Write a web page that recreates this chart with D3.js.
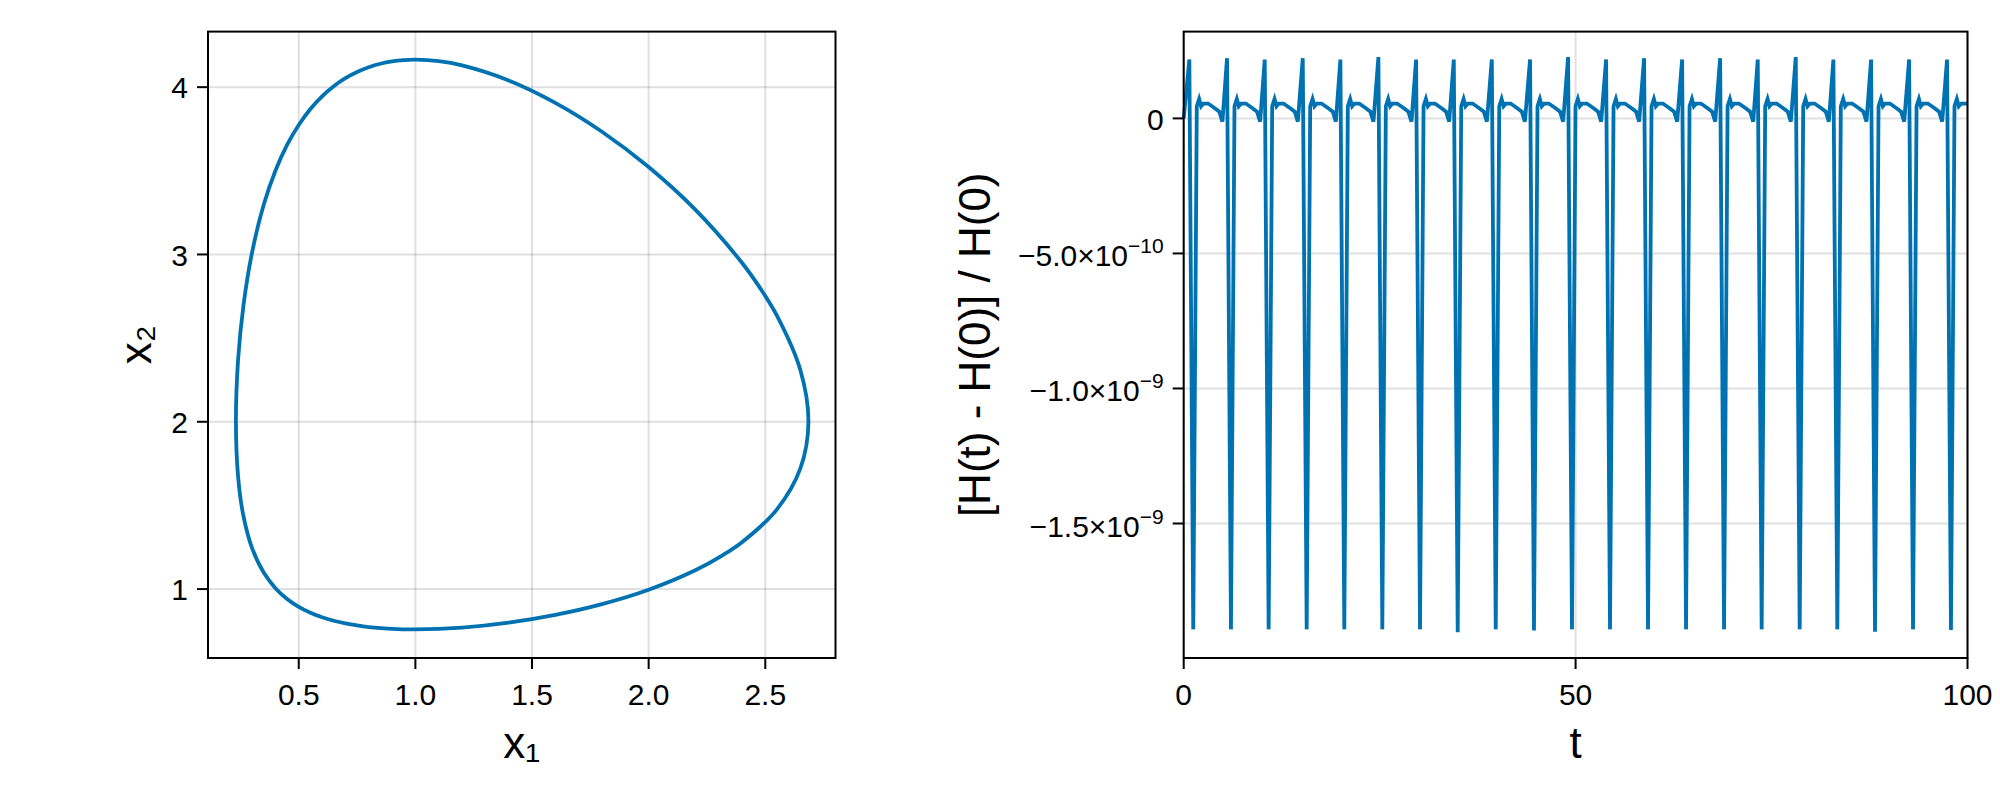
<!DOCTYPE html>
<html>
<head>
<meta charset="utf-8">
<script src="https://cdn.jsdelivr.net/npm/d3@7"></script>
<style>
  body { margin: 0; background: #fff; }
  svg { display: block; }
  text { font-family: "Liberation Sans", Arial, "DejaVu Sans", sans-serif; fill: #000; }
</style>
</head>
<body>
<svg id="chart" width="2000" height="800"></svg>
<script>
// ---------- Left panel: phase-space orbit (x1, x2) ----------
const orbitX1 = [2.685, 2.65, 2.55, 2.4773, 2.4, 2.2, 2.0, 1.8, 1.6, 1.4, 1.2, 1.1, 1.0, 0.95, 0.9, 0.85, 0.8, 0.75, 0.7, 0.65, 0.6, 0.55, 0.5, 0.45, 0.4, 0.3505, 0.3, 0.2634, 0.24, 0.2307, 0.24, 0.2611, 0.3, 0.3491, 0.4, 0.45, 0.5, 0.55, 0.6, 0.65, 0.7, 0.75, 0.8, 0.9, 1.0, 1.2, 1.4, 1.6, 1.8, 2.0, 2.2, 2.3148, 2.4, 2.55, 2.65];
const orbitX2 = [2.0, 2.3106, 2.6345, 2.8, 2.9504, 3.2676, 3.5226, 3.7335, 3.906, 4.04, 4.1297, 4.1549, 4.164, 4.1614, 4.1536, 4.140, 4.1192, 4.0908, 4.0534, 4.0056, 3.945, 3.8694, 3.774, 3.6543, 3.5003, 3.3, 3.0125, 2.7, 2.371, 2.0, 1.672, 1.45, 1.2446, 1.1, 1.0055, 0.9411, 0.894, 0.8589, 0.8318, 0.8108, 0.7947, 0.7823, 0.7730, 0.7620, 0.7587, 0.7696, 0.7992, 0.8456, 0.9098, 0.9958, 1.1122, 1.2, 1.2796, 1.4767, 1.7195];

const leftXTicks = [0.5, 1.0, 1.5, 2.0, 2.5];
const leftXTickLabels = ["0.5", "1.0", "1.5", "2.0", "2.5"];
const leftYTicks = [1, 2, 3, 4];
const leftYTickLabels = ["1", "2", "3", "4"];

// ---------- Right panel: relative energy error vs t ----------
const startTime = 0, startValue = 0;
const peakTimes   = [0.72, 5.53, 10.34, 15.19, 19.99, 24.84, 29.65, 34.46, 39.31, 44.19, 49.04, 53.89, 58.74, 63.59, 68.44, 73.24, 78.09, 82.89, 87.70, 92.55, 97.39];
const peakValues  = [2.18e-10, 2.23e-10, 2.18e-10, 2.23e-10, 2.18e-10, 2.27e-10, 2.18e-10, 2.18e-10, 2.18e-10, 2.18e-10, 2.27e-10, 2.18e-10, 2.23e-10, 2.18e-10, 2.23e-10, 2.18e-10, 2.27e-10, 2.18e-10, 2.18e-10, 2.18e-10, 2.18e-10];
const bottomTimes  = [1.22, 6.03, 10.84, 15.69, 20.49, 25.34, 30.15, 34.96, 39.81, 44.69, 49.54, 54.39, 59.24, 64.09, 68.94, 73.74, 78.59, 83.39, 88.20, 93.05, 97.89];
const bottomValues = [-1.892e-9, -1.892e-9, -1.892e-9, -1.892e-9, -1.892e-9, -1.892e-9, -1.892e-9, -1.903e-9, -1.892e-9, -1.896e-9, -1.892e-9, -1.892e-9, -1.892e-9, -1.892e-9, -1.892e-9, -1.892e-9, -1.892e-9, -1.892e-9, -1.901e-9, -1.892e-9, -1.894e-9];
// shape of the quiet part after each deep minimum (time after minimum, value)
const plateauOffsets = [0.45, 0.75, 1.0, 1.3, 1.9, 2.8, 3.33, 3.72];
const plateauValues  = [0.45e-10, 0.72e-10, 0.45e-10, 0.55e-10, 0.55e-10, 0.37e-10, 0.25e-10, -0.12e-10];
const endTime = 100, endValue = 0.54e-10;

const rightXTicks = [0, 50, 100];
const rightXTickLabels = ["0", "50", "100"];
const rightYTicks = [0, -5e-10, -1e-9, -1.5e-9];
const rightYTickMantissa = ["0", "\u22125.0\u00d710", "\u22121.0\u00d710", "\u22121.5\u00d710"];
const rightYTickExponent = ["", "\u221210", "\u22129", "\u22129"];

// ---------- Drawing ----------
const svg = d3.select("#chart");
svg.append("rect").attr("width", 2000).attr("height", 800).attr("fill", "#fff");

const BLUE = "#0072B2";
const GRID = "rgba(0,0,0,0.12)";
const TICK_FS = 30, LABEL_FS = 44;
const LINE_W = 3.8;

function panel(box, xs, ys, xt, xtl, yt, ytlFn, xlabel, ylabel, ylabelX, drawData) {
  const g = svg.append("g");
  g.selectAll(".gx").data(xt).enter().append("line")
    .attr("x1", d => xs(d)).attr("x2", d => xs(d))
    .attr("y1", box.top).attr("y2", box.bottom)
    .attr("stroke", GRID).attr("stroke-width", 2);
  g.selectAll(".gy").data(yt).enter().append("line")
    .attr("y1", d => ys(d)).attr("y2", d => ys(d))
    .attr("x1", box.left).attr("x2", box.right)
    .attr("stroke", GRID).attr("stroke-width", 2);
  drawData(g);
  g.append("rect").attr("x", box.left).attr("y", box.top)
    .attr("width", box.right - box.left).attr("height", box.bottom - box.top)
    .attr("fill", "none").attr("stroke", "#000").attr("stroke-width", 2);
  g.selectAll(".tx").data(xt).enter().append("line")
    .attr("x1", d => xs(d)).attr("x2", d => xs(d))
    .attr("y1", box.bottom).attr("y2", box.bottom + 11)
    .attr("stroke", "#000").attr("stroke-width", 2);
  g.selectAll(".txl").data(xt).enter().append("text")
    .attr("x", d => xs(d)).attr("y", box.bottom + 47)
    .attr("text-anchor", "middle").attr("font-size", TICK_FS)
    .text((d, i) => xtl[i]);
  g.selectAll(".ty").data(yt).enter().append("line")
    .attr("y1", d => ys(d)).attr("y2", d => ys(d))
    .attr("x1", box.left - 11).attr("x2", box.left)
    .attr("stroke", "#000").attr("stroke-width", 2);
  yt.forEach((d, i) => ytlFn(g, box.left - 20, ys(d), i));
  g.append("text").attr("x", (box.left + box.right) / 2).attr("y", box.bottom + 100)
    .attr("text-anchor", "middle").attr("font-size", LABEL_FS).text(xlabel);
  g.append("text")
    .attr("transform", `translate(${ylabelX},${(box.top + box.bottom) / 2}) rotate(-90)`)
    .attr("text-anchor", "middle").attr("font-size", LABEL_FS).text(ylabel);
}

// Left panel
const boxL = { left: 208, right: 835.5, top: 31.6, bottom: 658 };
const xL = d3.scaleLinear().domain([0.111, 2.801]).range([boxL.left, boxL.right]);
const yL = d3.scaleLinear().domain([0.588, 4.332]).range([boxL.bottom, boxL.top]);
const orbit = orbitX1.map((v, i) => [v, orbitX2[i]]);

panel(boxL, xL, yL, leftXTicks, leftXTickLabels, leftYTicks,
  (g, x, y, i) => {
    g.append("text").attr("x", x).attr("y", y).attr("dy", "0.37em")
      .attr("text-anchor", "end").attr("font-size", TICK_FS).text(leftYTickLabels[i]);
  },
  "x\u2081", "x\u2082", 151,
  g => {
    g.append("path").datum(orbit)
      .attr("d", d3.line().x(d => xL(d[0])).y(d => yL(d[1])).curve(d3.curveCatmullRomClosed.alpha(0.5)))
      .attr("fill", "none").attr("stroke", BLUE).attr("stroke-width", LINE_W)
      .attr("stroke-linejoin", "round");
  });

// Right panel
const series = [[startTime, startValue]];
bottomTimes.forEach((tb, k) => {
  series.push([peakTimes[k], peakValues[k]]);
  series.push([tb, bottomValues[k]]);
  plateauOffsets.forEach((o, j) => {
    if (tb + o < endTime) series.push([tb + o, plateauValues[j]]);
  });
});
series.push([endTime, endValue]);

const boxR = { left: 1183.7, right: 1967.5, top: 31.6, bottom: 658 };
const xR = d3.scaleLinear().domain([0, 100]).range([boxR.left, boxR.right]);
const yR = d3.scaleLinear().domain([-1.998e-9, 3.214e-10]).range([boxR.bottom, boxR.top]);

panel(boxR, xR, yR, rightXTicks, rightXTickLabels, rightYTicks,
  (g, x, y, i) => {
    const t = g.append("text").attr("x", x).attr("text-anchor", "end").attr("font-size", TICK_FS);
    if (rightYTickExponent[i] === "") {
      t.attr("y", y).attr("dy", "0.37em").text(rightYTickMantissa[i]);
    } else {
      t.attr("y", y + 13);
      t.append("tspan").text(rightYTickMantissa[i]);
      t.append("tspan").attr("dy", -13).attr("font-size", 21).text(rightYTickExponent[i]);
    }
  },
  "t", "[H(t) - H(0)] / H(0)", 990,
  g => {
    g.append("path").datum(series)
      .attr("d", d3.line().x(d => xR(d[0])).y(d => yR(d[1])))
      .attr("fill", "none").attr("stroke", BLUE).attr("stroke-width", LINE_W)
      .attr("stroke-linejoin", "miter").attr("stroke-miterlimit", 4);
  });
</script>
</body>
</html>
